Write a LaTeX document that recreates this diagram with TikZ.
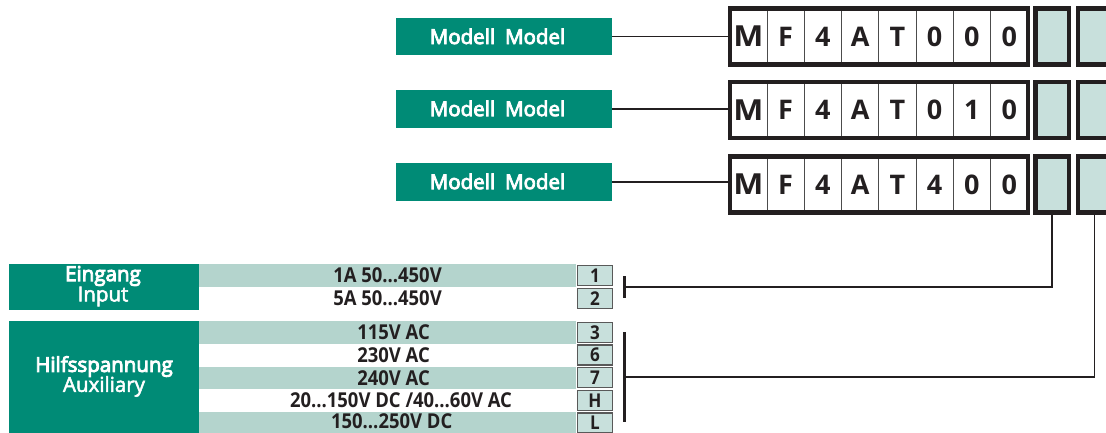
\documentclass[tikz,border=0pt]{standalone}
\usepackage{fontspec}
\setmainfont{Open Sans}
\newfontfamily\wideM[FakeStretch=1.1]{Open Sans}
\newfontfamily\modf[FakeBold=4]{Open Sans}
\newfontfamily\topf[FakeBold=4.5]{Open Sans}
\newfontfamily\botf[FakeBold=2.5]{Open Sans}
\newfontfamily\condf[FakeStretch=0.9]{Open Sans}
\definecolor{tealD}{RGB}{0,139,118}
\definecolor{bandC}{RGB}{180,212,205}
\definecolor{boxC}{RGB}{200,224,220}
\definecolor{inkC}{RGB}{35,31,32}
\tikzset{
  modelbox/.style={fill=tealD, minimum width=216pt, minimum height=37.5pt, inner sep=0pt},
  modeltext/.style={text=white, inner sep=0pt, font=\modf\fontsize{20.5}{24}\selectfont, text height=14.6pt, text depth=0pt},
  codebox/.style={draw=inkC, line width=4.3pt, minimum width=298.2pt, minimum height=56.2pt, inner sep=0pt},
  cellbox/.style={draw=black!70, line width=0.8pt, minimum width=37.275pt, minimum height=56.2pt, inner sep=0pt,
    font=\bfseries\fontsize{27}{30}\selectfont, text=inkC, text height=19.3pt, text depth=0pt},
  selbox/.style={draw=inkC, line width=4.3pt, fill=boxC, minimum width=33.4pt, minimum height=56.2pt, inner sep=0pt},
  catbox/.style={fill=tealD, minimum width=190pt, inner sep=0pt},
  cattop/.style={text=white, inner sep=0pt, font=\topf\fontsize{20.5}{20}\selectfont},
  catbot/.style={text=white, inner sep=0pt, font=\botf\fontsize{20.5}{20}\selectfont},
  bandbox/.style={fill=bandC, minimum width=377pt, minimum height=22.7pt, inner sep=0pt},
  entry/.style={font=\condf\bfseries\fontsize{20.5}{20}\selectfont, text=inkC, inner sep=0pt, text height=14.6pt, text depth=0pt},
  numbox/.style={draw=black!65, line width=1.1pt, fill=boxC, minimum width=35.5pt, minimum height=20pt, inner sep=0pt,
    font=\condf\bfseries\fontsize{19}{20}\selectfont, text=inkC, text height=13.6pt, text depth=0pt},
  conn/.style={draw=inkC, line width=1.5pt},
  barline/.style={draw=inkC, line width=3pt},
}
\begin{document}
\begin{tikzpicture}[x=1pt,y=-1pt]
\useasboundingbox (0,0) rectangle (1106,432);

% ---------- model rows ----------
\foreach \r/\my/\cy/\code in {1/36.7/36.5/{M,F,4,A,T,0,0,0}, 2/108.8/110/{M,F,4,A,T,0,1,0}, 3/181.8/184.5/{M,F,4,A,T,4,0,0}} {
  \node[modelbox] (m\r) at (504,\my) {};
  \node[modeltext] (mt\r) at (497.5,\my) {Modell\hspace{10pt}Model};
  \foreach \ch [count=\i] in \code {
    \ifnum\i=1
      \node[cellbox, font=\wideM\bfseries\fontsize{29}{30}\selectfont, text height=20.7pt] (c\r-\i) at ({729.65+37.275*(\i-0.5)},\cy) {\ch};
    \else
      \node[cellbox] (c\r-\i) at ({729.65+37.275*(\i-0.5)},\cy) {\ch};
    \fi
  }
  \node[codebox] (cb\r) at (878.75,\cy) {};
  \node[selbox] (sa\r) at (1052.15,\cy) {};
  \node[selbox] (sb\r) at (1094.55,\cy) {};
  \draw[conn] (m\r.east) -- (m\r.east -| cb\r.west);
}

% ---------- Eingang / Input ----------
\node[catbox, minimum height=46pt] (eing) at (104,287) {};
\node[cattop] (eingA) at (103,276) {Eingang};
\node[catbot] (eingB) at (103,296.5) {Input};
\node[bandbox, anchor=north west] (r1) at (199,264) {};
\node[entry] (e1) at (387.5,275.5) {1A 50...450V};
\node[entry] (e2) at (387.5,298.5) {5A 50...450V};
\node[numbox] (n1) at (595,275.5) {1};
\node[numbox] (n2) at (595,298.3) {2};

% ---------- Hilfsspannung / Auxiliary ----------
\node[catbox, minimum height=113.4pt, anchor=north west] (hilf) at (9,321) {};
\node[cattop] (hilfA) at (104,366.5) {Hilfsspannung};
\node[catbot] (hilfB) at (104,386.5) {Auxiliary};
\node[bandbox, anchor=north west] (r3) at (199,321) {};
\node[bandbox, anchor=north west] (r5) at (199,366.4) {};
\node[bandbox, anchor=north west] (r7) at (199,411.7) {};
\node[entry] (e3) at (393.5,332.3) {115V AC};
\node[entry] (e4) at (393.5,355) {230V AC};
\node[entry] (e5) at (393.5,377.7) {240V AC};
\node[entry] (e6) at (401,400.4) {20…150V DC /40…60V AC};
\node[entry] (e7) at (391.7,421.6) {150…250V DC};
\foreach \k/\yy/\lab in {3/332.3/3, 6/355/6, 7/377.7/7, H/400.4/H, L/423/L} {
  \node[numbox] (n\k) at (595,\yy) {\lab};
}

% ---------- brackets and connectors ----------
\coordinate (j1) at (624,287);
\coordinate (j1t) at (624,276);
\coordinate (j1b) at (624,298);
\coordinate (j2) at (624,377);
\coordinate (j2t) at (624,332);
\coordinate (j2b) at (624,422);
\draw[barline] (j1t) -- (j1b);
\draw[barline] (j2t) -- (j2b);
\draw[conn] (sa3.south) |- (j1);
\draw[conn] (sb3.south) |- (j2);
\end{tikzpicture}
\end{document}
